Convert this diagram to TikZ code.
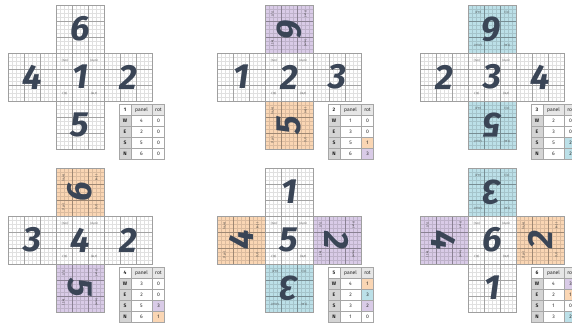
\documentclass[tikz,border=0pt]{standalone}
\usepackage{fontspec}
\setmainfont{Fira Sans}
\newfontfamily\numfont{Fira Sans}
\usetikzlibrary{calc}
\definecolor{numc}{HTML}{3A4556}
\definecolor{O}{HTML}{FAD6B4}
\definecolor{P}{HTML}{D9CBE7}
\definecolor{B}{HTML}{BCE0E8}
\definecolor{hdr}{HTML}{E6E6E6}
\definecolor{side}{HTML}{D4D4D4}
\tikzset{
 fine/.style={draw=black, draw opacity=0.12, line width=0.18pt},
 coarse/.style={draw=black, draw opacity=0.27, line width=0.35pt},
 border/.style={draw=gray!75, line width=0.5pt},
 digit/.style={text=numc, font=\numfont\bfseries\itshape\fontsize{35}{35}\selectfont, inner sep=0pt},
 corner/.style={font=\fontsize{2.8}{3}\selectfont, text=black!75, inner sep=0pt},
 cellA/.style={draw=gray!70, line width=0.4pt, minimum height=11pt, inner sep=0pt, font=\fontsize{5}{6}\selectfont, text=black!85},
}
% name, x, y, fill, digit, rot
\newcommand\cubesq[6]{%
  \begin{scope}[shift={(#2,#3)}]
  \fill[#4] (0,0) rectangle (48,48);
  \draw[fine] (0,0) grid[step=4] (48,48);
  \draw[coarse] (0,0) grid[step=16] (48,48);
  \draw[border] (0,0) rectangle (48,48);
  \node[digit, rotate=90*#6] (#1) at (24,24) {#5};
  \end{scope}}
% prefix, x, y (bottom-left of square), rot
\newcommand\corners[4]{%
  \begin{scope}[shift={(#2+24,#3+24)}, rotate=90*#4, transform shape]
  \node[corner] (#1-a) at (-15,16.5) {(1,m)};
  \node[corner] (#1-b) at (14,16.5) {(m,m)};
  \node[corner] (#1-c) at (-15,-16.5) {(1,1)};
  \node[corner] (#1-d) at (14,-16.5) {(m,1)};
  \end{scope}}
% prefix, x(left), y(top), id, rows
\newcommand\ctable[5]{%
  \begin{scope}[shift={(#2,#3)}]
  \node[cellA, minimum width=12pt, fill=white] (#1-h0) at (6,-5.5) {\textbf{#4}};
  \node[cellA, minimum width=21pt, fill=hdr] (#1-h1) at (22.5,-5.5) {panel};
  \node[cellA, minimum width=12pt, fill=hdr] (#1-h2) at (39.5,-5.5) {rot};
  \foreach \d/\p/\r/\c [count=\i] in {#5} {
    \node[cellA, minimum width=12pt, fill=side] (#1-\d0) at (6,-5.5-11*\i) {\textbf{\d}};
    \node[cellA, minimum width=21pt, fill=white] (#1-\d1) at (22.5,-5.5-11*\i) {\p};
    \node[cellA, minimum width=12pt, fill=\c] (#1-\d2) at (39.5,-5.5-11*\i) {\r};
  }
  \end{scope}}
\begin{document}
\begin{tikzpicture}[x=1pt,y=1pt]
\clip (0,0) rectangle (572,324);
\fill[white] (0,0) rectangle (572,324);
% Panel 1
\cubesq{a-c}{56}{223}{white}{1}{0}
\cubesq{a-w}{8}{223}{white}{4}{0}
\cubesq{a-e}{104}{223}{white}{2}{0}
\cubesq{a-s}{56}{175}{white}{5}{0}
\cubesq{a-n}{56}{271}{white}{6}{0}
\corners{a-cc}{56}{223}{0}
\ctable{ta}{119}{219.5}{1}{W/4/0/white, E/2/0/white, S/5/0/white, N/6/0/white}
% Panel 2
\cubesq{b-c}{265}{223}{white}{2}{0}
\cubesq{b-w}{217}{223}{white}{1}{0}
\cubesq{b-e}{313}{223}{white}{3}{0}
\cubesq{b-s}{265}{175}{O}{5}{1}
\cubesq{b-n}{265}{271}{P}{6}{3}
\corners{b-cc}{265}{223}{0}
\corners{b-sc}{265}{175}{1}
\corners{b-nc}{265}{271}{3}
\ctable{tb}{328}{219.5}{2}{W/1/0/white, E/3/0/white, S/5/1/O, N/6/3/P}
% Panel 3
\cubesq{c-c}{468}{223}{white}{3}{0}
\cubesq{c-w}{420}{223}{white}{2}{0}
\cubesq{c-e}{516}{223}{white}{4}{0}
\cubesq{c-s}{468}{175}{B}{5}{2}
\cubesq{c-n}{468}{271}{B}{6}{2}
\corners{c-cc}{468}{223}{0}
\corners{c-sc}{468}{175}{2}
\corners{c-nc}{468}{271}{2}
\ctable{tc}{531}{219.5}{3}{W/2/0/white, E/3/0/white, S/5/2/B, N/6/2/B}
% Panel 4
\cubesq{d-c}{56}{60}{white}{4}{0}
\cubesq{d-w}{8}{60}{white}{3}{0}
\cubesq{d-e}{104}{60}{white}{2}{0}
\cubesq{d-s}{56}{12}{P}{5}{3}
\cubesq{d-n}{56}{108}{O}{6}{1}
\corners{d-cc}{56}{60}{0}
\corners{d-sc}{56}{12}{3}
\corners{d-nc}{56}{108}{1}
\ctable{td}{119}{56.5}{4}{W/3/0/white, E/2/0/white, S/5/3/P, N/6/1/O}
% Panel 5
\cubesq{e-c}{265}{60}{white}{5}{0}
\cubesq{e-w}{217}{60}{O}{4}{1}
\cubesq{e-e}{313}{60}{P}{2}{3}
\cubesq{e-s}{265}{12}{B}{3}{2}
\cubesq{e-n}{265}{108}{white}{1}{0}
\corners{e-cc}{265}{60}{0}
\corners{e-wc}{217}{60}{1}
\corners{e-ec}{313}{60}{3}
\corners{e-sc}{265}{12}{2}
\ctable{te}{328}{56.5}{5}{W/4/1/O, E/2/3/B, S/3/2/P, N/1/0/white}
% Panel 6
\cubesq{f-c}{468}{60}{white}{6}{0}
\cubesq{f-w}{420}{60}{P}{4}{3}
\cubesq{f-e}{516}{60}{O}{2}{1}
\cubesq{f-s}{468}{12}{white}{1}{0}
\cubesq{f-n}{468}{108}{B}{3}{2}
\corners{f-cc}{468}{60}{0}
\corners{f-wc}{420}{60}{3}
\corners{f-ec}{516}{60}{1}
\corners{f-nc}{468}{108}{2}
\ctable{tf}{531}{56.5}{6}{W/4/3/P, E/2/1/O, S/1/0/white, N/3/2/B}
\end{tikzpicture}
\end{document}
